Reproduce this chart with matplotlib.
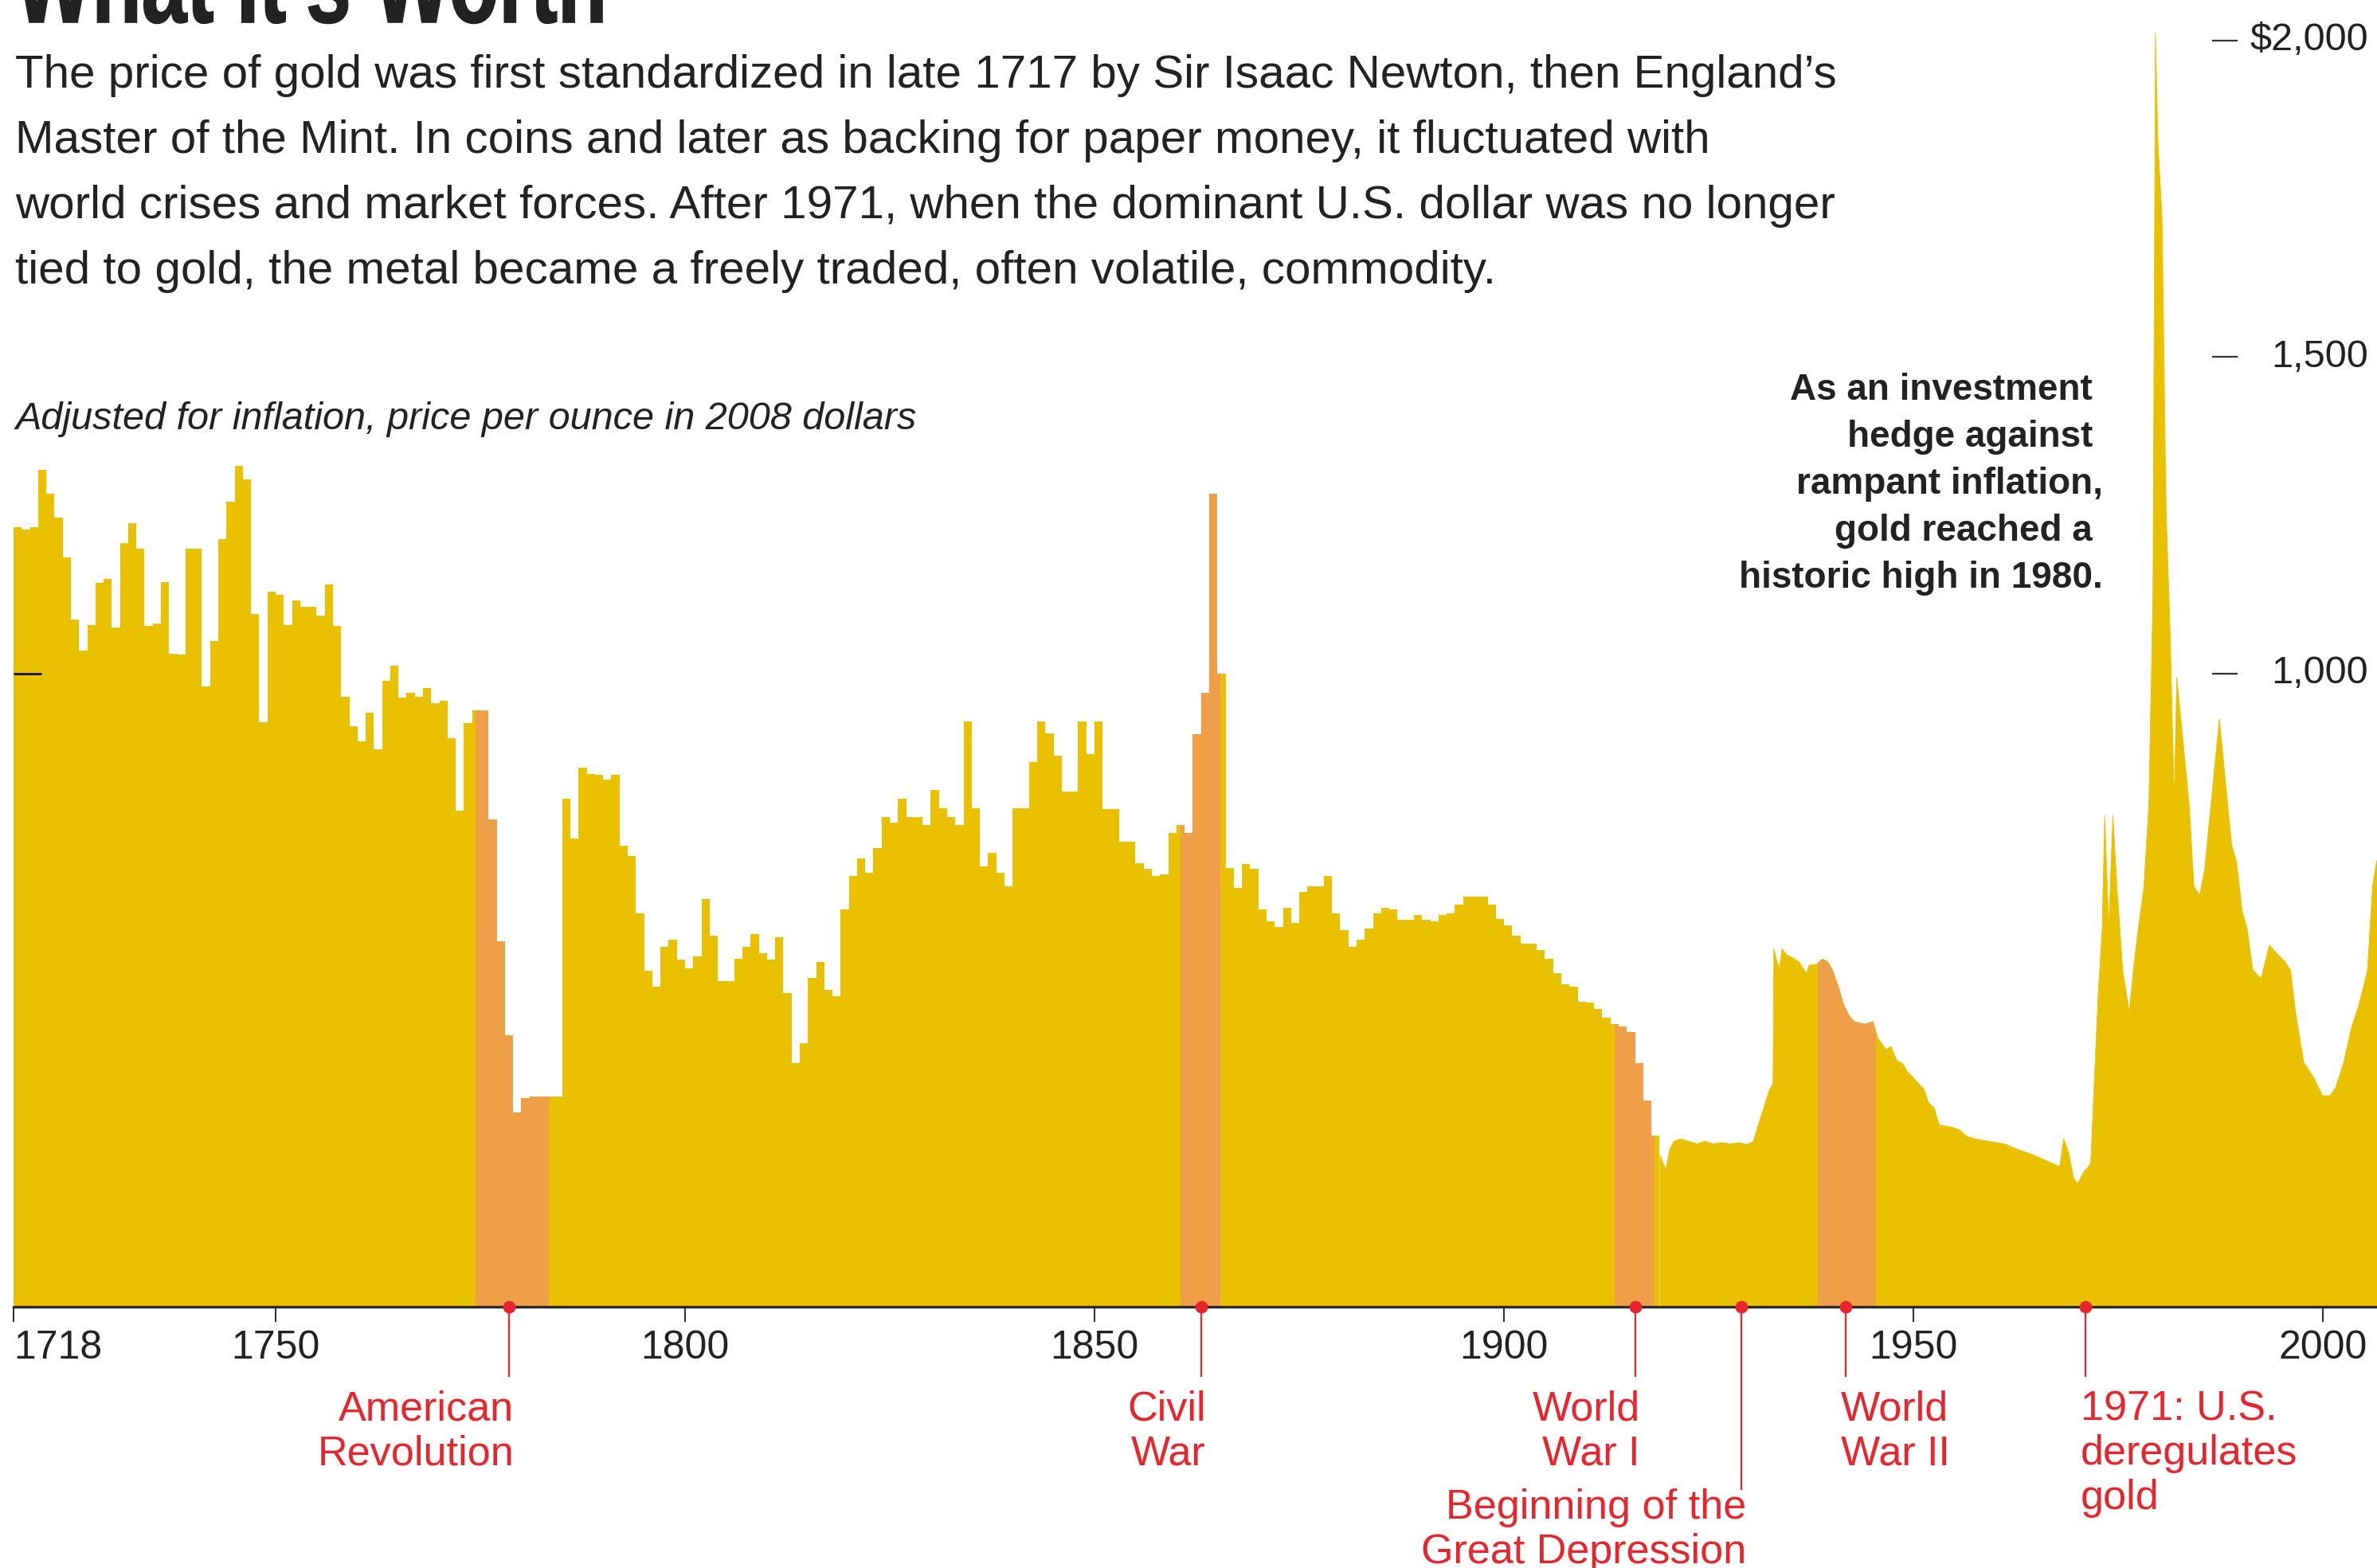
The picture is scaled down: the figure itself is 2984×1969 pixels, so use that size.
import numpy as np
import matplotlib.pyplot as plt
from matplotlib import transforms
from matplotlib.patches import Rectangle, PathPatch
from matplotlib.textpath import TextPath
from matplotlib.font_manager import FontProperties

plt.rcParams['font.family'] = ['Liberation Sans', 'DejaVu Sans']

# inflation-adjusted gold price per ounce, 2008 dollars, one value a year from 1718
annual_start = 1718
annual_prices = [
    1231, 1228, 1231, 1322, 1284, 1247, 1183, 1085, 1037, 1077,
    1143, 1150, 1073, 1206, 1238, 1198, 1075, 1079, 1145, 1032,
    1030, 1198, 1198, 980, 1051, 1212, 1271, 1328, 1307, 1094,
    923, 1130, 1125, 1077, 1116, 1106, 1106, 1092, 1141, 1075,
    964, 917, 893, 938, 880, 989, 1013, 962, 970, 964,
    977, 954, 957, 898, 783, 922, 942, 942, 770, 577,
    429, 307, 329, 332, 332, 332, 332, 803, 739, 851,
    842, 840, 833, 840, 728, 712, 621, 531, 505, 568,
    580, 549, 535, 553, 644, 586, 515, 515, 550, 568,
    589, 558, 549, 584, 496, 385, 416, 520, 544, 500,
    491, 628, 681, 708, 686, 724, 774, 765, 802, 774,
    774, 761, 816, 787, 774, 761, 924, 787, 695, 717,
    686, 664, 787, 787, 860, 924, 905, 871, 814, 814,
    924, 873, 924, 786, 786, 734, 734, 701, 692, 680,
    683, 748, 761, 748, 904, 970, 1284, 1000, 693, 661,
    699, 692, 627, 609, 600, 630, 606, 655, 664, 664,
    680, 621, 595, 568, 580, 597, 621, 630, 628, 611,
    611, 619, 611, 609, 619, 621, 635, 648, 648, 648,
    635, 612, 602, 586, 573, 573, 564, 550, 527, 509,
    506, 482, 480, 471, 456, 447, 443, 434, 385, 326,
    270,
]

# finer readings after 1919
modern_years = [
    1919.0, 1919.7, 1920.2, 1920.7, 1921.5, 1922.5, 1923.5, 1924.5, 1925.5, 1926.5,
    1927.5, 1928.7, 1929.6, 1930.4, 1931.0, 1931.65, 1932.3, 1932.8, 1932.9, 1933.3,
    1933.6, 1933.9, 1934.5, 1935.2, 1936.0, 1936.9, 1937.2, 1938.2, 1938.8, 1939.5,
    1940.1, 1940.8, 1941.4, 1942.1, 1942.7, 1944.0, 1945.0, 1945.6, 1946.6, 1947.2,
    1947.9, 1948.6, 1949.2, 1949.9, 1950.5, 1951.2, 1951.8, 1952.5, 1953.1, 1954.75,
    1955.7, 1956.4, 1957.4, 1959.6, 1961.3, 1962.9, 1964.5, 1966.1, 1967.8, 1968.3,
    1968.9, 1969.5, 1970.0, 1970.7, 1971.3, 1971.6, 1972.0, 1972.5, 1973.0, 1973.3,
    1973.8, 1974.3, 1974.8, 1975.5, 1976.3, 1976.8, 1977.4, 1978.1, 1978.7, 1979.2,
    1979.5, 1979.8, 1980.3, 1980.8, 1981.3, 1981.8, 1982.1, 1982.6, 1983.1, 1983.6,
    1984.2, 1984.9, 1985.5, 1986.2, 1986.8, 1987.3, 1987.8, 1988.3, 1988.8, 1989.4,
    1990.1, 1990.7, 1991.4, 1992.4, 1993.4, 1994.3, 1995.3, 1996.0, 1996.6, 1997.6,
    1998.9, 1999.9, 2000.8, 2001.5, 2002.5, 2003.4, 2004.4, 2005.4, 2006.0, 2006.5,
    2007.0,
]
modern_prices = [
    240, 217, 250, 262, 266, 262, 258, 262, 258, 260,
    258, 260, 257, 262, 288, 314, 341, 354, 566, 545,
    535, 566, 556, 552, 545, 527, 540, 542, 550, 545,
    531, 505, 478, 460, 451, 447, 451, 425, 407, 412,
    390, 385, 372, 363, 354, 345, 323, 314, 288, 284,
    279, 270, 266, 261, 257, 248, 241, 232, 222, 266,
    244, 204, 195, 213, 222, 228, 347, 493, 598, 777,
    598, 777, 664, 532, 466, 532, 598, 664, 797, 1127,
    2012, 1840, 1721, 1259, 1061, 797, 995, 929, 863, 797,
    664, 651, 691, 783, 863, 929, 863, 797, 730, 704,
    625, 598, 532, 519, 572, 559, 546, 532, 466, 387,
    361, 334, 334, 347, 387, 440, 480, 532, 664, 704,
    720,
]

war_spans = [(1774.4, 1783.3), (1860.5, 1865.3), (1913.5, 1918.3), (1938.3, 1945.3)]

event_years = [1778.5, 1863.0, 1916.0, 1929.0, 1941.7, 1971.0]
event_labels = [
    ['American', 'Revolution'],
    ['Civil', 'War'],
    ['World', 'War I'],
    ['Beginning of the', 'Great Depression'],
    ['World', 'War II'],
    ['1971: U.S.', 'deregulates', 'gold'],
]
event_align = ['right', 'right', 'right', 'right', 'left', 'left']

x_ticks = [1718, 1750, 1800, 1850, 1900, 1950, 2000]
y_marks = [2000, 1500, 1000]
y_mark_labels = ['$2,000', '1,500', '1,000']

gold = '#EAC100'
orange = '#EE9F47'
red = '#E8242C'
ink = '#222222'

W, H = 2984, 1969
fig = plt.figure(figsize=(W / 100, H / 100), dpi=100)
fig.patch.set_facecolor('white')

def fx(px):
    return px / W

def fy(px):
    return 1 - px / H

ax = fig.add_axes([fx(17), fy(1641), 1 - fx(17), 1641 / H])
ax.patch.set_alpha(0)
ax.set_xlim(1718, 2006.6)
ax.set_ylim(0, 2064)

step_x = np.arange(annual_start, annual_start + len(annual_prices) + 1)
step_y = annual_prices + [annual_prices[-1]]

def draw_area(color, span=None):
    a = ax.fill_between(step_x, 0, step_y, step='post', color=color, lw=0, zorder=1)
    b = ax.fill_between(modern_years, 0, modern_prices, color=color, lw=0.6,
                        edgecolor=color, zorder=1)
    if span is not None:
        for art in (a, b):
            clip = Rectangle((span[0], 0), span[1] - span[0], 3000, transform=ax.transData)
            art.set_clip_path(clip)

draw_area(gold)
for sp in war_spans:
    draw_area(orange, sp)

for s in ['left', 'right', 'top']:
    ax.spines[s].set_visible(False)
ax.spines['bottom'].set_color('#2a2a2a')
ax.spines['bottom'].set_linewidth(2.4)
ax.spines['bottom'].set_zorder(3)

ax.set_xticks(x_ticks)
ax.set_xticklabels([str(t) for t in x_ticks])
ax.tick_params(axis='x', direction='out', length=14, width=1.4, color='#2a2a2a',
               labelsize=36, labelcolor=ink, pad=7)
ax.get_xticklabels()[0].set_horizontalalignment('left')

ax.set_yticks([1000])
ax.set_yticklabels([''])
ax.tick_params(axis='y', direction='in', length=25, width=2, color='#111111')

# right-hand value scale
blend_y = transforms.blended_transform_factory(fig.transFigure, ax.transData)
for v, lab in zip(y_marks, y_mark_labels):
    ax.plot([fx(2778), fx(2808)], [v, v], transform=blend_y, color='#333333',
            lw=1.6, clip_on=False)
    ax.text(fx(2973), v, lab, transform=blend_y, ha='right', va='center',
            fontsize=35, color=ink)

# event markers below the baseline
blend_x = transforms.blended_transform_factory(ax.transData, fig.transFigure)
ax.scatter(event_years, [0] * len(event_years), s=130, color=red, zorder=5,
           clip_on=False, linewidths=0)
for ev, lines, ha in zip(event_years, event_labels, event_align):
    deep = lines[0].startswith('Beginning')
    end = 1870 if deep else 1728
    ax.plot([ev, ev], [fy(1641), fy(end)], transform=blend_x, color=red,
            lw=1.6, clip_on=False, zorder=4)
    base = 1907 if deep else 1783
    xoff = 0.6 if ha == 'right' else -0.6
    for k, line in enumerate(lines):
        ax.text(ev + xoff, fy(base + 56 * k), line, transform=blend_x, ha=ha,
                va='baseline', fontsize=37.5, color=red)

# headline: squeezed heavy type, mostly running off the top edge
title_path = TextPath((0, 0), 'What It’s Worth', size=100,
                      prop=FontProperties(family='Liberation Sans', weight='bold'))
ext = title_path.get_extents()
sx = 737 / ext.width
sy = 1.45
title_tf = transforms.Affine2D().translate(-ext.x0, 0).scale(sx, sy).translate(19, H - 28)
fig.add_artist(PathPatch(title_path, transform=title_tf, facecolor=ink, edgecolor=ink,
                         lw=1.2))

intro = [
    'The price of gold was first standardized in late 1717 by Sir Isaac Newton, then England’s',
    'Master of the Mint. In coins and later as backing for paper money, it fluctuated with',
    'world crises and market forces. After 1971, when the dominant U.S. dollar was no longer',
    'tied to gold, the metal became a freely traded, often volatile, commodity.',
]
for k, line in enumerate(intro):
    fig.text(fx(19), fy(110 + 82 * k), line, fontsize=42, color=ink, va='baseline')

fig.text(fx(19), fy(539), 'Adjusted for inflation, price per ounce in 2008 dollars',
         fontsize=35, style='italic', color=ink, va='baseline')

note = ['As an investment', 'hedge against', 'rampant inflation,',
        'gold reached a', 'historic high in 1980.']
for k, line in enumerate(note):
    right = 2640 if line[-1] in ',.' else 2627
    fig.text(fx(right), fy(502 + 59 * k), line, fontsize=33, fontweight='bold',
             color=ink, ha='right', va='baseline')

fig.savefig('out.png', dpi=100, facecolor='white')
